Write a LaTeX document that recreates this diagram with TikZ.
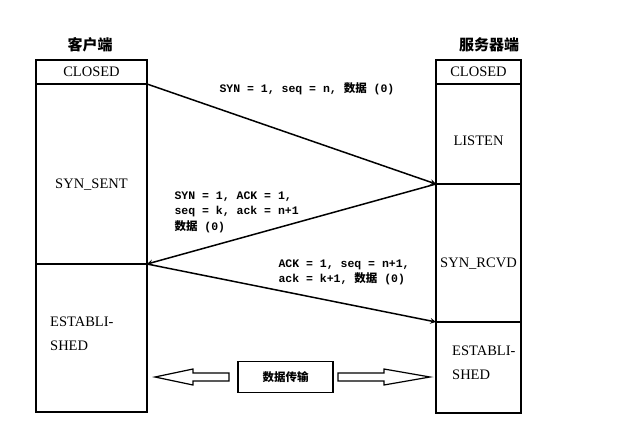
\documentclass[tikz,border=0pt]{standalone}
\usepackage{fontspec}
\setmainfont{Liberation Serif}
\newfontfamily\cjk{Noto Sans CJK SC}
\newfontfamily\mono{Liberation Mono}
\begin{document}
\begin{tikzpicture}[x=1pt,y=-1pt,
  box/.style={draw,line width=1.3pt},
  st/.style={font=\fontsize{14.5}{17}\selectfont},
  lbl/.style={font=\mono\fontsize{11.5}{15}\selectfont\bfseries,align=left},
  msg/.style={line width=1.5pt,->,>=stealth}]
\useasboundingbox (0,0) rectangle (629,426);
% left column
\draw[box] (36,60) rectangle (147,412);
\draw[box] (36,84) -- (147,84);
\draw[box] (36,264) -- (147,264);
\node[st] (lc) at (91.5,72) {CLOSED};
\node[st] (ls) at (91.5,185) {SYN\_SENT};
\node[st,align=left,anchor=west,inner sep=0pt] (le) at (50,334) {ESTABLI-\\[7pt]SHED};
% right column
\draw[box] (436,60) rectangle (521,413);
\draw[box] (436,84) -- (521,84);
\draw[box] (436,184) -- (521,184);
\draw[box] (436,322) -- (521,322);
\node[st] (rc) at (478.5,72) {CLOSED};
\node[st] (rl) at (478.5,141) {LISTEN};
\node[st] (rs) at (478.5,264) {SYN\_RCVD};
\node[st,align=left,anchor=west,inner sep=0pt] (re) at (452,363) {ESTABLI-\\[7pt]SHED};
% titles
\node[font=\cjk\bfseries\fontsize{15}{17}\selectfont] (tl) at (90,45) {客户端};
\node[font=\cjk\bfseries\fontsize{15}{17}\selectfont] (tr) at (489,45) {服务器端};
% messages
\coordinate (a1) at (147,84); \coordinate (b1) at (436,184);
\coordinate (a2) at (147,264); \coordinate (b2) at (436,322);
\draw[msg] (a1) -- (b1);
\draw[msg] (b1) -- (a2);
\draw[msg] (a2) -- (b2);
\node[lbl,anchor=west] (m1) at (216,89) {SYN = 1, seq = n, {\cjk 数据} (0)};
\node[lbl,anchor=north west] (m2) at (171,188) {SYN = 1, ACK = 1,\\seq = k, ack = n+1\\[1pt]{\cjk 数据} (0)};
\node[lbl,anchor=north west] (m3) at (275,256) {ACK = 1, seq = n+1,\\ack = k+1, {\cjk 数据} (0)};
% data transfer
\node[draw,line width=1.3pt,minimum width=95pt,minimum height=31pt,font=\cjk\bfseries\fontsize{11.5}{13}\selectfont] (dt) at (285.5,377) {数据传输};
\draw[line width=1.2pt] (229,373) -- (193,373) -- (193,369) -- (155,377) -- (193,385) -- (193,381) -- (229,381) -- cycle;
\draw[line width=1.2pt] (338,373) -- (384,373) -- (384,369) -- (430,377) -- (384,385) -- (384,381) -- (338,381) -- cycle;
\end{tikzpicture}
\end{document}
